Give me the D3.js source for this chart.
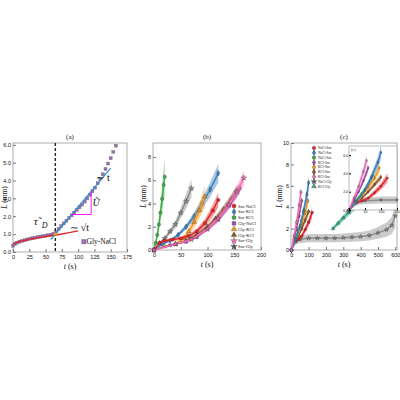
<!DOCTYPE html>
<html>
<head>
<meta charset="utf-8" />
<script src="https://cdn.jsdelivr.net/npm/d3@7"></script>
<style>
  body { margin: 0; background: #fff; }
  svg { font-family: "Liberation Serif", serif; }
  text { fill: #111; }
</style>
</head>
<body>
<svg id="fig" width="400" height="400"></svg>
<script>
// panel (a): Gly-NaCl measurements
const aT = [0,3,6,10,14,18,22,26,30,34,38,42,46,50,54,58,62,66,70,74,78,82,86,90,94,98,102,106,110,114,118,122,126,130,134,138,142,146,150,154,158];
const aL = [0.35,0.45,0.52,0.58,0.62,0.66,0.7,0.74,0.77,0.8,0.83,0.86,0.88,0.91,0.94,0.97,1.02,1.12,1.3,1.45,1.6,1.75,1.9,2.05,2.2,2.35,2.5,2.65,2.82,3.0,3.2,3.4,3.6,3.85,4.1,4.35,4.65,4.95,5.25,5.6,5.95];
const aFitSqrtT = [0,10,25,50,75,100];
const aFitSqrtL = [0.45,0.6,0.72,0.86,1.0,1.18];
const aFitLinT = [58,150];
const aFitLinL = [0.7,4.7];
const tauD = 65;

// panel (b)
const bLegend = ["Sac-NaCl","Sac-KCl","Sac-KCl","Gly-NaCl","Gly-KCl","Gly-KCl","Sac-Gly","Sac-Gly"];
const bSeries = [
  {name:"Sac-KCl", color:"#3fae49", sym:"circle", t:[0,3,6,9,12,15,18,20], L:[0,0.6,1.3,2.2,3.2,4.4,5.6,6.3], w:0.25},
  {name:"Sac-Gly", color:"#8c8c8c", sym:"star", t:[0,10,20,30,40,50,60,70], L:[0,0.6,1.0,1.6,2.2,3.2,4.2,5.3], w:0.15},
  {name:"Sac-KCl", color:"#3a7fc1", sym:"diamond", t:[0,15,30,45,60,75,90,105,120], L:[0,0.5,0.8,1.3,2.0,2.9,4.0,5.2,6.6], w:0.12},
  {name:"Gly-KCl", color:"#f39a1e", sym:"triangle", t:[0,20,40,55,65,75,85,95], L:[0,0.3,0.5,1.0,1.6,2.4,3.4,4.6], w:0.2},
  {name:"Sac-NaCl", color:"#e3242b", sym:"circle", t:[0,10,20,35,50,65,80,95,110,120], L:[0,0.6,0.8,0.9,1.0,1.2,1.6,2.3,3.4,4.3], w:0.15},
  {name:"Gly-KCl", color:"#8b5a2b", sym:"triangle", t:[40,60,80,100,115,130,145,155], L:[0.5,0.8,1.3,2.0,2.7,3.5,4.4,5.1], w:0.1},
  {name:"Gly-NaCl", color:"#9b4fa5", sym:"square", t:[0,30,60,80,100,120,140,160], L:[0,0.4,0.7,1.1,1.8,2.6,3.8,5.3], w:0.08},
  {name:"Sac-Gly", color:"#ee6fb3", sym:"star", t:[0,40,70,100,120,140,155,168], L:[0,0.5,0.9,1.8,2.7,3.9,5.0,6.2], w:0.1}
];
const bLegendColors = ["#e3242b","#3a7fc1","#3fae49","#9b4fa5","#f39a1e","#8b5a2b","#ee6fb3","#555"];
const bLegendSyms = ["circle","diamond","circle","square","triangle","triangle","star","star"];

// panel (c)
const cLegend = ["NaCl-Sac","NaCl-Sac","NaCl-Sac","KCl-Sac","KCl-Sac","KCl-Sac","KCl-Sac","NaCl-Gly","KCl-Gly"];
const cLegendColors = ["#e3242b","#3a7fc1","#3fae49","#9b4fa5","#f39a1e","#8b5a2b","#ee6fb3","#555","#3aa88a"];
const cLegendSyms = ["circle","diamond","circle","diamond","diamond","diamond","diamond","star","triangle"];
const cSeries = [
  {color:"#8c8c8c", sym:"star", t:[0,25,50,100,150,200,250,300,350,400,450,500,550,580,600], L:[0,0.8,1.0,1.1,1.1,1.1,1.1,1.15,1.2,1.25,1.35,1.6,1.9,2.3,3.2], w:0.35},
  {color:"#3aa88a", sym:"triangle", t:[240,270,300,330,360,390], L:[2.0,2.5,3.0,3.5,4.0,4.5], w:0.1},
  {color:"#e3242b", sym:"circle", t:[0,20,40,60,80,100,120], L:[0,0.8,1.0,1.3,1.9,2.6,3.5], w:0.15},
  {color:"#8b5a2b", sym:"diamond", t:[0,20,40,60,80,100], L:[0,0.8,1.3,2.0,2.8,3.6], w:0.1},
  {color:"#3fae49", sym:"circle", t:[0,20,40,60,75], L:[0,1.0,1.8,2.8,3.8], w:0.12},
  {color:"#f39a1e", sym:"diamond", t:[0,20,40,60,80,95], L:[0,0.8,1.5,2.5,3.5,4.6], w:0.12},
  {color:"#9b4fa5", sym:"diamond", t:[0,15,30,45,60], L:[0,1.0,2.0,3.2,4.6], w:0.1},
  {color:"#3a7fc1", sym:"diamond", t:[0,25,50,70,90,100], L:[0,1.0,2.2,3.6,5.2,6.3], w:0.12},
  {color:"#ee6fb3", sym:"diamond", t:[0,15,30,45,55], L:[0,1.3,2.6,4.2,5.4], w:0.12}
];

const svg = d3.select("#fig");
const symMap = {circle:d3.symbolCircle, square:d3.symbolSquare, triangle:d3.symbolTriangle, diamond:d3.symbolDiamond, star:d3.symbolStar};

function panel(box, xDom, yDom, xTicks, yTicks, title) {
  const x = d3.scaleLinear().domain(xDom).range([box.x0, box.x1]);
  const y = d3.scaleLinear().domain(yDom).range([box.y1, box.y0]);
  const g = svg.append("g");
  g.append("rect").attr("x", box.x0).attr("y", box.y0)
    .attr("width", box.x1 - box.x0).attr("height", box.y1 - box.y0)
    .attr("fill", "none").attr("stroke", "#777").attr("stroke-width", 0.6);
  g.append("g").attr("transform", `translate(0,${box.y1})`)
    .call(d3.axisBottom(x).tickValues(xTicks).tickSize(-3).tickPadding(3))
    .call(a => { a.select(".domain").remove(); a.selectAll("text").attr("font-size", 5.5).attr("fill", "#111"); a.selectAll("line").attr("stroke", "#777"); });
  g.append("g").attr("transform", `translate(${box.x0},0)`)
    .call(d3.axisLeft(y).tickValues(yTicks).tickSize(-3).tickPadding(2))
    .call(a => { a.select(".domain").remove(); a.selectAll("text").attr("font-size", 5.5).attr("fill", "#111"); a.selectAll("line").attr("stroke", "#777"); });
  g.append("text").attr("x", (box.x0 + box.x1) / 2).attr("y", box.y0 - 4)
    .attr("text-anchor", "middle").attr("font-size", 7).text(title);
  g.append("text").attr("x", (box.x0 + box.x1) / 2).attr("y", box.y1 + 17)
    .attr("text-anchor", "middle").attr("font-size", 8)
    .html('<tspan font-style="italic">t</tspan> (s)');
  g.append("text").attr("transform", `translate(${box.x0 - box.lab},${(box.y0 + box.y1) / 2}) rotate(-90)`)
    .attr("text-anchor", "middle").attr("dominant-baseline", "middle").attr("font-size", 7.5)
    .html('<tspan font-style="italic">L</tspan> (mm)');
  return {x, y, g};
}

function drawSeries(p, s, size) {
  const pts = s.t.map((t, i) => [t, s.L[i]]);
  const area = d3.area().x(d => p.x(d[0]))
    .y0(d => p.y(Math.max(0, d[1] * (1 - s.w))))
    .y1(d => p.y(d[1] * (1 + s.w)));
  p.g.append("path").attr("d", area(pts)).attr("fill", s.color).attr("opacity", 0.45);
  p.g.append("path").attr("d", d3.line().x(d => p.x(d[0])).y(d => p.y(d[1]))(pts))
    .attr("fill", "none").attr("stroke", s.color).attr("stroke-width", 1.5);
  p.g.selectAll(null).data(pts).join("path")
    .attr("transform", d => `translate(${p.x(d[0])},${p.y(d[1])})`)
    .attr("d", d3.symbol(symMap[s.sym], size))
    .attr("fill", s.color).attr("stroke", "#222").attr("stroke-width", 0.3);
}

function legend(p, x0, y0, names, colors, syms, dy, fs) {
  names.forEach((n, i) => {
    p.g.append("path").attr("transform", `translate(${x0},${y0 + i * dy})`)
      .attr("d", d3.symbol(symMap[syms[i]], fs * 3)).attr("fill", colors[i])
      .attr("stroke", "#222").attr("stroke-width", 0.3);
    p.g.append("text").attr("x", x0 + 4).attr("y", y0 + i * dy + fs * 0.35)
      .attr("font-size", fs).text(n);
  });
}

// ----- (a)
const pa = panel({x0:13, x1:127, y0:143, y1:252, lab:8}, [0,175], [0,6.1],
  [0,25,50,75,100,125,150,175], [0,1,2,3,4,5,6], "(a)");
pa.g.selectAll(null).data(aT.map((t, i) => [t, aL[i]])).join("rect")
  .attr("x", d => pa.x(d[0]) - 1.5).attr("y", d => pa.y(d[1]) - 1.5)
  .attr("width", 3).attr("height", 3).attr("fill", "#9b6fb0").attr("stroke", "#555").attr("stroke-width", 0.3);
pa.g.append("path").attr("d", d3.line().curve(d3.curveBasis).x(d => pa.x(d[0])).y(d => pa.y(d[1]))(aFitSqrtT.map((t, i) => [t, aFitSqrtL[i]])))
  .attr("fill", "none").attr("stroke", "#e3242b").attr("stroke-width", 1.3);
pa.g.append("line").attr("x1", pa.x(aFitLinT[0])).attr("y1", pa.y(aFitLinL[0]))
  .attr("x2", pa.x(aFitLinT[1])).attr("y2", pa.y(aFitLinL[1]))
  .attr("stroke", "#2f8fd0").attr("stroke-width", 1.2);
pa.g.append("line").attr("x1", pa.x(tauD)).attr("x2", pa.x(tauD)).attr("y1", 143).attr("y2", 252)
  .attr("stroke", "#222").attr("stroke-width", 1.4).attr("stroke-dasharray", "3,2");
pa.g.append("circle").attr("cx", pa.x(tauD)).attr("cy", pa.y(1.0)).attr("r", 1.6).attr("fill", "#f39a1e");
pa.g.append("path").attr("d", `M${pa.x(90)},${pa.y(2.1)}H${pa.x(120)}V${pa.y(3.4)}`)
  .attr("fill", "none").attr("stroke", "#ff00ff").attr("stroke-width", 0.9);
pa.g.append("text").attr("x", pa.x(122)).attr("y", pa.y(2.6)).attr("font-size", 10).attr("font-style", "italic").text("Ũ");
pa.g.append("text").attr("x", pa.x(128)).attr("y", pa.y(4.0)).attr("font-size", 10).text("∼ t");
pa.g.append("text").attr("x", pa.x(88)).attr("y", pa.y(1.15)).attr("font-size", 10).text("∼ √t");
pa.g.append("text").attr("x", pa.x(32)).attr("y", pa.y(1.5)).attr("font-size", 11).attr("font-style", "italic").text("τ̃");
pa.g.append("text").attr("x", pa.x(44)).attr("y", pa.y(1.35)).attr("font-size", 8).attr("font-style", "italic").text("D");
pa.g.append("rect").attr("x", pa.x(105)).attr("y", pa.y(0.55) - 3).attr("width", 5).attr("height", 5).attr("fill", "#9b6fb0");
pa.g.append("text").attr("x", pa.x(113)).attr("y", pa.y(0.55) + 2).attr("font-size", 7.5).text("Gly-NaCl");

// ----- (b)
const pb = panel({x0:153, x1:261, y0:143, y1:250, lab:9}, [-2,200], [0,9.2],
  [0,50,100,150,200], [0,2,4,6,8], "(b)");
bSeries.forEach(s => drawSeries(pb, s, 9));
legend(pb, 234, 206, bLegend, bLegendColors, bLegendSyms, 5.8, 4.5);

// ----- (c)
const pc = panel({x0:291, x1:397, y0:143, y1:250, lab:11}, [-2,610], [0,10],
  [0,100,200,300,400,500,600], [0,2,4,6,8,10], "(c)");
cSeries.forEach(s => drawSeries(pc, s, 6));

// inset: early times of the same series
const ib = {x0:349, x1:397, y0:146, y1:210};
const ix = d3.scaleLinear().domain([0,150]).range([ib.x0, ib.x1]);
const iy = d3.scaleLinear().domain([0,7]).range([ib.y1, ib.y0]);
const ig = svg.append("g");
ig.append("rect").attr("x", ib.x0).attr("y", ib.y0).attr("width", ib.x1 - ib.x0).attr("height", ib.y1 - ib.y0)
  .attr("fill", "#fff").attr("stroke", "#777").attr("stroke-width", 0.5);
const ip = {x:ix, y:iy, g:ig};
cSeries.forEach(s => {
  const keep = s.t.map((t, i) => i).filter(i => s.t[i] <= 150);
  if (keep.length > 1) drawSeries(ip, {...s, t:keep.map(i => s.t[i]), L:keep.map(i => s.L[i])}, 3);
});
ig.append("g").attr("transform", `translate(0,${ib.y1})`).call(d3.axisBottom(ix).tickValues([0,50,100,150]).tickSize(-2).tickPadding(1))
  .call(a => { a.select(".domain").remove(); a.selectAll("text").attr("font-size", 3.5); });
ig.append("g").attr("transform", `translate(${ib.x0},0)`).call(d3.axisLeft(iy).tickValues([0,2,4,6]).tickSize(-2).tickPadding(1))
  .call(a => { a.select(".domain").remove(); a.selectAll("text").attr("font-size", 3.5); });
ig.append("text").attr("x", ib.x0 + 2).attr("y", ib.y0 + 5).attr("font-size", 3.5).text("(c.)");
legend(pc, 314, 148, cLegend, cLegendColors, cLegendSyms, 4.8, 3.5);
</script>
</body>
</html>
